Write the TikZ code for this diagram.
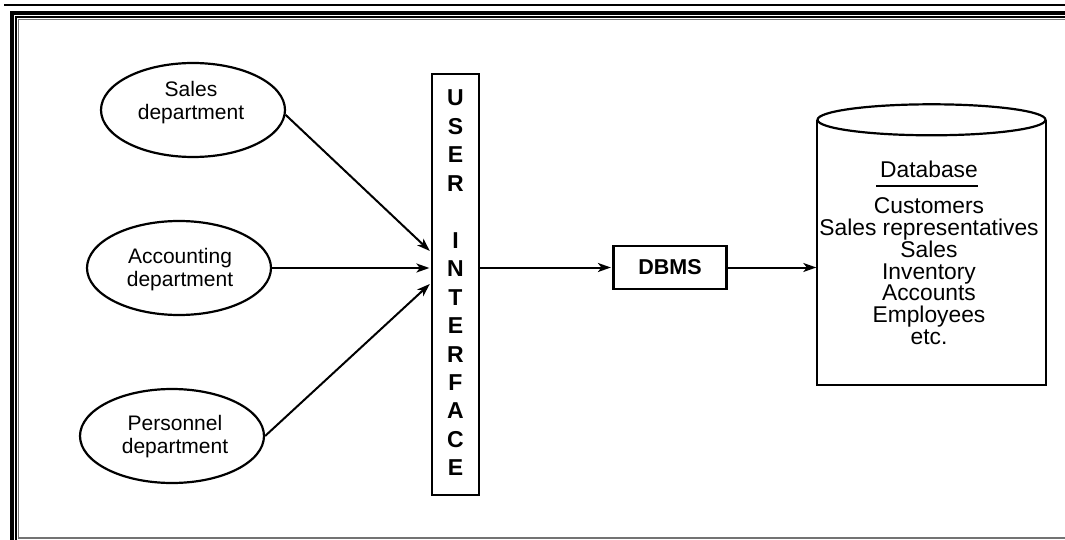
\documentclass[tikz,border=0pt]{standalone}
\usepackage{fontspec}
\setmainfont{Liberation Sans}
\usetikzlibrary{arrows.meta,calc,shapes.geometric}
\begin{document}
\begin{tikzpicture}[x=1pt,y=-1pt,
  dept/.style={draw, ellipse, line width=2.2pt, minimum width=184pt, minimum height=94pt, inner sep=0pt},
  depttext/.style={align=center, font=\fontsize{21}{23}\selectfont, inner sep=0pt},
  link/.style={line width=2pt, -{Stealth[length=13pt,width=9pt,inset=3.5pt]}},
  boxed/.style={draw, line width=2.2pt, inner sep=0pt},
  uiletter/.style={font=\fontsize{23}{23}\selectfont\bfseries, inner sep=0pt},
  dbtext/.style={font=\fontsize{22.8}{22}\selectfont, inner sep=0pt},
  frameline/.style={line cap=butt}
]
\clip (0,0) rectangle (1065,540);

% page frame
\draw[frameline, line width=2pt] (4,5) -- (1070,5);
\draw[frameline, line width=4pt] (12,545) -- (12,13) -- (1070,13);
\draw[frameline, line width=1.5pt] (15.8,545) -- (15.8,16.8) -- (1070,16.8);
\draw[frameline, line width=1.2pt, black!55] (1070,538) -- (18.8,538) -- (18.8,19.5) -- (1070,19.5);

% departments
\node[dept] (sales) at (193,110) {};
\node[depttext] (salestext) at (191,103) {Sales\\department};
\node[dept] (acc) at (179,268) {};
\node[depttext] (acctext) at (180,270) {Accounting\\department};
\node[dept] (pers) at (172,436) {};
\node[depttext] (perstext) at (175,437) {Personnel\\department};

% user interface column
\node[boxed, minimum width=47pt, minimum height=421pt] (ui) at (455.5,284.5) {};
\foreach \ch/\k in {U/0,S/1,E/2,R/3,I/5,N/6,T/7,E/8,R/9,F/10,A/11,C/12,E/13}
  \node[uiletter] (ui-\k) at (455.5,98+28.46*\k) {\ch};

% DBMS
\node[boxed, minimum width=113pt, minimum height=43pt, font=\fontsize{21.5}{21.5}\selectfont\bfseries] (dbms) at (670,267.5) {DBMS};

% database cylinder
\node[minimum width=228pt, minimum height=265pt, inner sep=0pt] (db) at (931.5,252.5) {};
\draw[line width=2.2pt] (db.north west) -- (db.south west) -- (db.south east) -- (db.north east);
\draw[line width=2.2pt] (db.north) ellipse [x radius=114, y radius=15.5];

\node[dbtext, anchor=base] (dbtitle) at (929,178) {Database};
\draw[line width=2pt] ($(dbtitle.base west)+(-4,8)$) -- ($(dbtitle.base east)+(0,8)$);
\foreach \t [count=\i] in {Customers,Sales representatives,Sales,Inventory,Accounts,Employees,etc.}
  \node[dbtext, anchor=base] (item\i) at (929,214+21.7*\i-21.7) {\t};

% connectors
\draw[link, shorten >=1.5pt] (sales.-3) -- ($(ui.west)+(0,-32.5)$);
\draw[link, shorten >=1.5pt] (acc.east) -- (acc.east -| ui.west);
\draw[link, shorten >=1.5pt] (pers.east) -- ($(ui.west)+(0,-1.5)$);
\draw[link, shorten >=1.5pt] (ui.east |- dbms.west) -- (dbms.west);
\draw[link, shorten >=1pt] (dbms.east) -- (dbms.east -| db.west);
\end{tikzpicture}
\end{document}
